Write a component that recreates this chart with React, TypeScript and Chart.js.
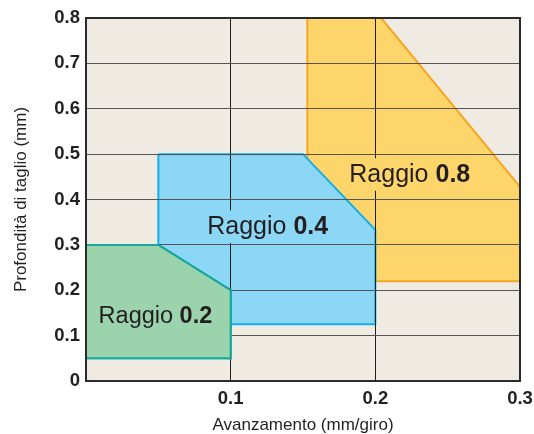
import React, { useEffect, useRef } from 'react';
import { Chart, registerables } from 'chart.js';

Chart.register(...registerables);

// ---- data ----
const xTickLabels = ['', '0.1', '0.2', '0.3'];
const yTickLabels = ['0', '0.1', '0.2', '0.3', '0.4', '0.5', '0.6', '0.7', '0.8'];
const xAxisTitle = 'Avanzamento (mm/giro)';
const yAxisTitle = 'Profondità di taglio (mm)';
const labelPrefix = 'Raggio ';
const radiusNames = ['0.2', '0.4', '0.8'];

// polygon outlines (feed mm/rev, depth mm)
const r02X = [0, 0.05, 0.1, 0.1, 0, 0];
const r02Y = [0.3, 0.3, 0.2, 0.05, 0.05, 0.3];
const r04X = [0.05, 0.15, 0.2, 0.2, 0.1, 0.1, 0.05, 0.05];
const r04Y = [0.5, 0.5, 0.333, 0.125, 0.125, 0.2, 0.3, 0.5];
const r08X = [0.153, 0.204, 0.3, 0.3, 0.2, 0.2, 0.153, 0.153];
const r08Y = [0.8, 0.8, 0.428, 0.22, 0.22, 0.3, 0.3, 0.8];

// ---- styling / layout ----
const FONT = '"Liberation Sans", Arial, Helvetica, sans-serif';
const TEXT = '#231f20';
const BG = '#efebe2';
const fills = ['#9bd3ad', '#8dd7f6', '#fdd56b'];
const strokes = ['#14a89c', '#12aeea', '#f6a623'];
// label anchors: [centre x, baseline y] in data units, font size px
const labelAnchors = [
  { x: 0.048, y: 0.128, size: 23.5 },
  { x: 0.1256, y: 0.323, size: 25 },
  { x: 0.2238, y: 0.438, size: 25 },
];

const toPts = (xs: number[], ys: number[]) => xs.map((x, i) => ({ x, y: ys[i] }));

const regionPlugin = {
  id: 'regionPlugin',
  beforeDraw(chart: any) {
    const { ctx, chartArea: a } = chart;
    ctx.save();
    ctx.fillStyle = BG;
    ctx.fillRect(a.left, a.top, a.right - a.left, a.bottom - a.top);
    ctx.restore();
  },
  afterDraw(chart: any) {
    const { ctx, chartArea: a } = chart;
    // green region sits above the grid
    const meta = chart.getDatasetMeta(0);
    if (chart._drawDataset) chart._drawDataset(meta);
    // frame
    ctx.save();
    ctx.strokeStyle = '#2b2b2b';
    ctx.lineWidth = 2;
    ctx.strokeRect(a.left, a.top, a.right - a.left, a.bottom - a.top);
    ctx.restore();
    // labels
    const xs = chart.scales.x;
    const ys = chart.scales.y;
    labelAnchors.forEach((lab, i) => {
      const cx = xs.getPixelForValue(lab.x);
      const by = ys.getPixelForValue(lab.y);
      ctx.save();
      const regFont = `normal ${lab.size}px ${FONT}`;
      const boldFont = `bold ${lab.size}px ${FONT}`;
      ctx.font = regFont;
      const w1 = ctx.measureText(labelPrefix).width;
      ctx.font = boldFont;
      const w2 = ctx.measureText(radiusNames[i]).width;
      const w = w1 + w2;
      const x0 = cx - w / 2;
      ctx.fillStyle = fills[i];
      ctx.fillRect(x0 - 3, by - lab.size * 0.96, w + 6, lab.size * 1.3);
      ctx.fillStyle = TEXT;
      ctx.textBaseline = 'alphabetic';
      ctx.textAlign = 'left';
      ctx.font = regFont;
      ctx.fillText(labelPrefix, x0, by);
      ctx.font = boldFont;
      ctx.fillText(radiusNames[i], x0 + w1, by);
      ctx.restore();
    });
  },
};

export default function App() {
  const ref = useRef<HTMLCanvasElement | null>(null);
  useEffect(() => {
    if (!ref.current) return;
    const mk = (i: number, xs: number[], ys: number[], order: number) => ({
      data: toPts(xs, ys),
      showLine: true,
      fill: 'shape',
      backgroundColor: fills[i],
      borderColor: strokes[i],
      borderWidth: 2,
      pointRadius: 0,
      tension: 0,
      order,
    });
    const chart = new Chart(ref.current, {
      type: 'scatter',
      data: {
        datasets: [mk(0, r02X, r02Y, 1), mk(1, r04X, r04Y, 2), mk(2, r08X, r08Y, 3)] as any,
      },
      options: {
        animation: false,
        responsive: false,
        layout: { padding: { left: 0, top: 18, right: 14, bottom: 0 } },
        plugins: { legend: { display: false }, tooltip: { enabled: false } },
        scales: {
          x: {
            type: 'linear',
            min: 0,
            max: 0.3,
            z: 1,
            afterFit: (s: any) => { s.height = 53; s.paddingRight = 0; s.paddingLeft = 0; },
            ticks: {
              stepSize: 0.1,
              padding: 7,
              color: TEXT,
              font: { family: FONT, size: 18.5, weight: 'bold' },
              callback: (_v: any, i: number) => xTickLabels[i] ?? '',
            },
            grid: { color: '#1e1e1e', lineWidth: 1, drawTicks: false, z: 1 },
            border: { display: false },
            title: {
              display: true,
              text: xAxisTitle,
              color: TEXT,
              font: { family: FONT, size: 17, lineHeight: 1 },
              padding: { top: 0, bottom: 0 },
            },
          },
          y: {
            type: 'linear',
            min: 0,
            max: 0.8,
            z: 1,
            afterFit: (s: any) => { s.width = 86; s.paddingTop = 0; s.paddingBottom = 0; },
            ticks: {
              stepSize: 0.1,
              padding: 6,
              color: TEXT,
              font: { family: FONT, size: 18.5, weight: 'bold' },
              callback: (_v: any, i: number) => yTickLabels[i] ?? '',
            },
            grid: { color: '#555555', lineWidth: 1, drawTicks: false, z: 1 },
            border: { display: false },
            title: {
              display: true,
              text: yAxisTitle,
              color: TEXT,
              font: { family: FONT, size: 17 },
              padding: { top: 11, bottom: 0 },
            },
          },
        },
      } as any,
      plugins: [regionPlugin],
    });
    return () => chart.destroy();
  }, []);
  return (
    <div style={{ position: 'absolute', left: 0, top: 0, width: 534, height: 434 }}>
      <canvas ref={ref} width={534} height={434} style={{ display: 'block' }} />
    </div>
  );
}
